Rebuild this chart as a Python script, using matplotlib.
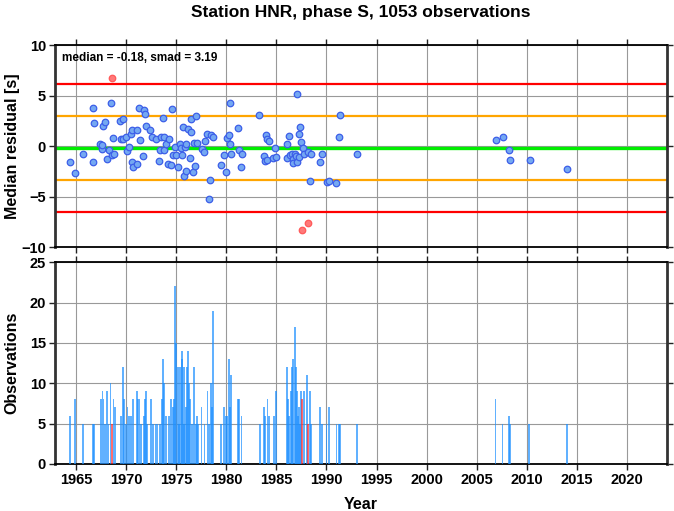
import numpy as np
import matplotlib
matplotlib.use('Agg')
import matplotlib.pyplot as plt

plt.rcParams['font.family'] = ['Liberation Sans', 'DejaVu Sans']
plt.rcParams['font.weight'] = 'bold'

# residual per event (top panel)
res_year = [1964.4, 1964.87, 1965.7, 1966.67, 1966.73, 1966.8, 1967.4, 1967.56, 1967.6, 1967.7,
            1967.9, 1968.06, 1968.26, 1968.46, 1968.56, 1968.56, 1968.72, 1968.8, 1969.39, 1969.5,
            1969.66, 1969.7, 1970.0, 1970.1, 1970.3, 1970.5, 1970.56, 1970.6, 1970.7, 1971.06,
            1971.1, 1971.3, 1971.36, 1971.7, 1971.76, 1971.9, 1971.99, 1972.4, 1972.6, 1972.98,
            1973.3, 1973.4, 1973.5, 1973.7, 1973.75, 1973.8, 1973.98, 1974.2, 1974.3, 1974.5,
            1974.6, 1974.7, 1974.9, 1974.95, 1975.15, 1975.4, 1975.5, 1975.6, 1975.65, 1975.75,
            1975.85, 1975.95, 1975.98, 1976.15, 1976.4, 1976.5, 1976.5, 1976.7, 1976.75, 1976.85,
            1977.0, 1977.1, 1977.55, 1977.8, 1977.9, 1978.1, 1978.27, 1978.4, 1978.5, 1978.67,
            1979.5, 1979.77, 1980.0, 1980.04, 1980.24, 1980.34, 1980.4, 1980.5, 1981.17, 1981.27,
            1981.5, 1981.6, 1983.3, 1983.76, 1983.86, 1983.93, 1984.1, 1984.1, 1984.3, 1984.7,
            1984.86, 1984.96, 1986.06, 1986.1, 1986.3, 1986.4, 1986.6, 1986.7, 1986.7, 1986.86,
            1986.96, 1987.03, 1987.08, 1987.26, 1987.26, 1987.4, 1987.5, 1987.55, 1987.65, 1987.75,
            1988.12, 1988.15, 1988.35, 1988.45, 1989.35, 1989.58, 1990.02, 1990.28, 1990.95, 1991.28,
            1991.35, 1993.07, 2006.9, 2007.6, 2008.25, 2008.3, 2010.28, 2014.0]
res_val = [-1.55, -2.64, -0.76, 3.73, -1.55, 2.28, 0.23, -0.33, 0.07, 1.95,
           2.35, -1.32, -0.4, 4.29, 6.70, -0.89, 0.82, -0.79, 2.5, 0.66,
           2.64, 0.66, 0.86, -0.5, -0.07, 1.19, 1.58, -1.55, -2.1, -1.75,
           1.61, 3.73, 0.59, -0.96, 3.56, 3.17, 2.01, 1.55, 0.92, 0.72,
           -1.45, -0.4, 0.92, 2.74, -0.4, 0.86, 0.17, -1.75, 0.69, -1.85,
           3.66, -0.89, -0.07, -0.89, -2.05, 0.2, -0.17, -0.89, 1.85, -2.97,
           -0.07, -2.48, 0.2, 1.71, -1.16, 1.36, 2.67, -2.54, 0.26, -1.95,
           2.97, 0.33, -0.26, -0.56, 0.5, 1.19, -5.21, -3.34, 1.06, 0.86,
           -1.88, -0.92, -2.61, 0.79, 1.12, 4.26, 0.17, -0.76, 1.75, -0.36,
           -2.05, -0.82, 3.07, -0.96, -1.49, 1.12, 0.69, -1.36, 0.5, -1.16,
           -0.17, -1.06, -1.16, 0.23, 1.02, -0.92, -0.82, -1.26, -1.71, -0.82,
           -1.02, -1.55, 5.15, 1.22, -1.06, 1.91, 0.43, -8.32, -0.17, -0.79,
           -0.56, -7.59, -3.5, -0.82, -1.55, -0.76, -3.56, -3.43, -3.66, 0.92,
           3.1, -0.76, 0.62, 0.89, -0.43, -1.36, -1.36, -2.28]

# observations per event (bottom panel)
obs_year = [1964.40, 1964.90, 1965.73, 1966.66, 1966.76, 1967.50, 1967.63, 1967.73, 1967.89, 1968.06,
            1968.23, 1968.43, 1968.56, 1968.73, 1968.89, 1969.46, 1969.66, 1969.79, 1969.99, 1970.13,
            1970.29, 1970.49, 1970.66, 1971.06, 1971.16, 1971.33, 1971.46, 1971.79, 1971.86, 1971.99,
            1972.12, 1972.46, 1972.66, 1972.92, 1973.05, 1973.38, 1973.58, 1973.68, 1973.81, 1973.98,
            1974.25, 1974.48, 1974.65, 1974.78, 1974.91, 1974.98, 1975.15, 1975.28, 1975.41, 1975.55,
            1975.61, 1975.75, 1975.81, 1975.95, 1976.05, 1976.15, 1976.25, 1976.39, 1976.59, 1976.75,
            1976.95, 1977.08, 1977.21, 1977.54, 1977.84, 1978.14, 1978.27, 1978.44, 1978.54, 1978.64,
            1979.47, 1979.74, 1979.97, 1980.10, 1980.27, 1980.37, 1980.50, 1981.14, 1981.27, 1981.53,
            1983.36, 1983.76, 1983.89, 1984.13, 1984.29, 1984.73, 1984.93, 1986.03, 1986.16, 1986.29,
            1986.46, 1986.56, 1986.69, 1986.83, 1986.93, 1987.03, 1987.13, 1987.26, 1987.36, 1987.49,
            1987.55, 1987.76, 1988.09, 1988.15, 1988.36, 1988.46, 1989.35, 1989.58, 1990.02, 1990.28,
            1991.01, 1991.28, 1991.36, 1993.04, 2006.89, 2007.59, 2008.25, 2008.32, 2010.24, 2014.0]
obs_count = [6, 8, 5, 5, 5, 8, 9, 8, 5, 9,
             5, 10, 5, 8, 7, 6, 12, 8, 5, 7,
             6, 6, 8, 9, 8, 8, 5, 6, 8, 9,
             5, 8, 5, 5, 5, 5, 8, 13, 10, 6,
             6, 8, 7, 8, 22, 15, 12, 5, 12, 13,
             14, 5, 12, 7, 12, 14, 10, 8, 5, 12,
             5, 6, 5, 7, 5, 9, 5, 10, 7, 19,
             5, 7, 6, 6, 13, 7, 11, 8, 8, 6,
             5, 7, 6, 8, 6, 6, 9, 12, 8, 6,
             9, 12, 13, 17, 12, 9, 6, 7, 5, 9,
             8, 9, 11, 5, 9, 5, 7, 5, 5, 7,
             5, 5, 5, 5, 8, 5, 6, 5, 5, 5]

median = -0.18
smad = 3.19
title = 'Station HNR, phase S, 1053 observations'

res_year = np.array(res_year)
res_val = np.array(res_val)
outlier = np.abs(res_val - median) > 2 * smad
out_years = res_year[outlier]

fig = plt.figure(figsize=(6.74, 5.11), dpi=100)
ax1 = fig.add_axes([0.0816, 0.5166, 0.908, 0.395])
ax2 = fig.add_axes([0.0816, 0.092, 0.908, 0.395], sharex=ax1)

def style(ax):
    ax.grid(True, color='#999999', lw=0.8, zorder=0)
    ax.set_axisbelow(True)
    ax.tick_params(direction='out', length=4, width=1, labelsize=10.5,
                   top=True, right=True, color='#222222', pad=2.5)
    for s in ['left', 'right']:
        ax.spines[s].set_linewidth(2.0)
        ax.spines[s].set_color('#333333')
    for s in ['top', 'bottom']:
        ax.spines[s].set_linewidth(1.3)
        ax.spines[s].set_color('black')
    for lab in ax.get_xticklabels() + ax.get_yticklabels():
        lab.set_fontweight('bold')

# top panel
ax1.axhline(median + 2 * smad, color='#ff0000', lw=1.6, zorder=2)
ax1.axhline(median - 2 * smad, color='#ff0000', lw=1.6, zorder=2)
ax1.axhline(median + smad, color='#ffa500', lw=1.6, zorder=2)
ax1.axhline(median - smad, color='#ffa500', lw=1.6, zorder=2)
ax1.axhline(median, color='#00ee00', lw=2.4, zorder=2)
ax1.scatter(res_year[~outlier], res_val[~outlier], s=22, facecolor='#74a8f2',
            edgecolor='#3c5ee8', lw=0.9, zorder=3)
ax1.scatter(res_year[outlier], res_val[outlier], s=22, facecolor='#ff6a6a',
            edgecolor='#ff5050', lw=0.9, alpha=0.9, zorder=3)
ax1.set_ylim(-10, 10)
ax1.set_yticks([-10, -5, 0, 5, 10])
ax1.set_xlim(1962.9, 2024.0)
ax1.set_xticks(np.arange(1965, 2021, 5))
ax1.tick_params(labelbottom=False)
ax1.set_ylabel('Median residual [s]', fontsize=11.5, fontweight='bold', labelpad=1)
ax1.text(0.012, 0.965, 'median = %.2f, smad = %.2f' % (median, smad), transform=ax1.transAxes,
         ha='left', va='top', fontsize=8.5, fontweight='bold')
ax1.set_title(title, fontsize=12.5, fontweight='bold', pad=20)
style(ax1)

# bottom panel
bar_colors = ['#ff3030' if np.any(np.isclose(y, out_years, atol=0.01)) else '#1e90ff'
              for y in obs_year]
ax2.bar(obs_year, obs_count, width=0.17, color=bar_colors, alpha=0.7, lw=0, zorder=3)
ax2.set_ylim(0, 25)
ax2.set_yticks([0, 5, 10, 15, 20, 25])
ax2.set_ylabel('Observations', fontsize=11.5, fontweight='bold', labelpad=7)
ax2.set_xlabel('Year', fontsize=11.5, fontweight='bold', labelpad=7)
style(ax2)

fig.savefig('out.png', dpi=100)
